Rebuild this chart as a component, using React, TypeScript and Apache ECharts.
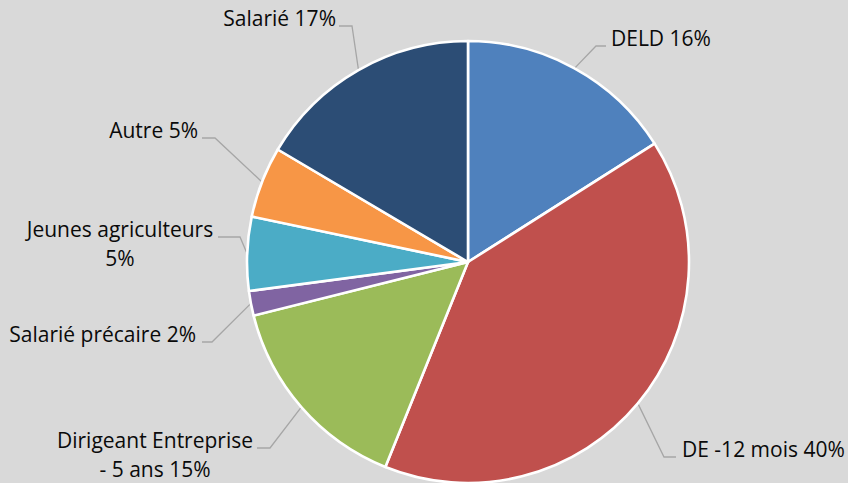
import React, { useEffect, useRef } from "react";
import * as echarts from "echarts";

const categories = [
  "DELD",
  "DE -12 mois",
  "Dirigeant Entreprise - 5 ans",
  "Salarié précaire",
  "Jeunes agriculteurs",
  "Autre",
  "Salarié",
];
const values = [16.0, 40.1, 15.0, 1.8, 5.4, 5.2, 16.5];
const colors = ["#4f81bd", "#c0504d", "#9bbb59", "#8064a2", "#4bacc6", "#f79646", "#2c4d75"];
// label text is wrapped onto a second line after this prefix ("" = no wrap)
const wrapAfter = ["", "", "Dirigeant Entreprise", "", "Jeunes agriculteurs", "", ""];

// label placement (text edge / centre x, guide line y, horizontal guide end, elbow x)
const labelSpots = [
  { x: 611, y: 46, align: "left", hx: 606, ex: 596 },
  { x: 682, y: 457, align: "left", hx: 676, ex: 664 },
  { x: 155, y: 448, align: "center", hx: 257, ex: 270 },
  { x: 196, y: 342, align: "right", hx: 202, ex: 212 },
  { x: 120, y: 237, align: "center", hx: 218, ex: 240 },
  { x: 198, y: 138, align: "right", hx: 202, ex: 215 },
  { x: 336, y: 26, align: "right", hx: 339, ex: 352 },
];

const FONT = 21;
const LH = 29;

export default function App() {
  const ref = useRef<HTMLDivElement>(null);
  useEffect(() => {
    if (!ref.current) return;
    const chart = echarts.init(ref.current, null, { renderer: "svg" });
    const data = categories.map((name, i) => ({
      name,
      value: values[i],
      itemStyle: { color: colors[i] },
    }));
    chart.setOption({
      animation: false,
      backgroundColor: "#d9d9d9",
      series: [
        {
          type: "pie",
          center: [468, 262],
          radius: 221,
          startAngle: 90,
          clockwise: true,
          avoidLabelOverlap: false,
          data,
          itemStyle: { borderColor: "#ffffff", borderWidth: 2.6 },
          emphasis: { disabled: true },
          label: {
            show: true,
            position: "outside",
            alignTo: "none",
            overflow: "none",
            width: 400,
            fontFamily: "Open Sans",
            fontSize: FONT,
            lineHeight: LH,
            color: "#0a0a0a",
            formatter: (p: any) => {
              const i = p.dataIndex;
              const txt = `${categories[i]} ${Math.round(values[i])}%`;
              const w = wrapAfter[i];
              if (w && txt.startsWith(w)) {
                return w + "\n" + txt.slice(w.length + 1);
              }
              return txt;
            },
          },
          labelLine: {
            show: true,
            length: 10,
            length2: 10,
            lineStyle: { color: "#a6a6a6", width: 1.3 },
          },
          labelLayout: (params: any) => {
            const s = labelSpots[params.dataIndex];
            const pts = params.labelLinePoints;
            const start = pts && pts[0] ? pts[0] : [s.ex, s.y];
            return {
              x: s.x,
              y: s.y - 8 - LH / 2,
              align: s.align,
              verticalAlign: "top",
              labelLinePoints: [start, [s.ex, s.y], [s.hx, s.y]],
            };
          },
        },
      ],
    });
    return () => chart.dispose();
  }, []);
  return (
    <div
      ref={ref}
      style={{ position: "fixed", left: 0, top: 0, width: 848, height: 483 }}
    />
  );
}
